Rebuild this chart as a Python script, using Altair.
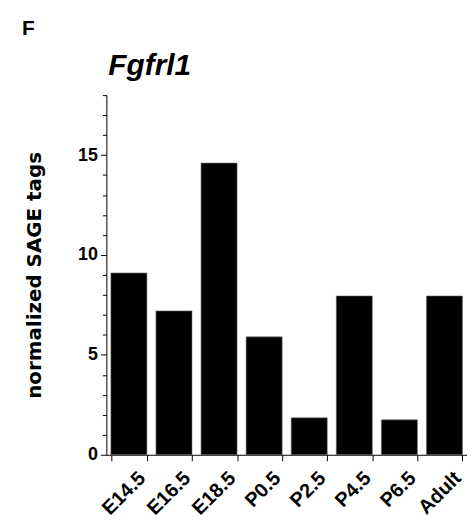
import altair as alt
import pandas as pd

stages = ["E14.5", "E16.5", "E18.5", "P0.5", "P2.5", "P4.5", "P6.5", "Adult"]
tags = [9.1, 7.2, 14.6, 5.9, 1.85, 7.95, 1.75, 7.95]
y_ticks = list(range(0, 19))
panel_label = ["F"]
gene_title = ["Fgfrl1"]

df = pd.DataFrame({"stage": stages, "tags": tags})

FONT = "Liberation Sans"

bars = alt.Chart(df).mark_bar(color="black", stroke="#777777", strokeWidth=0.6).encode(
    x=alt.X("stage:N", sort=stages, title=None,
            scale=alt.Scale(paddingInner=0.2, paddingOuter=0.1),
            axis=alt.Axis(tickBand="extent", labelAngle=-45, labelAlign="right",
                          labelBaseline="top", labelOffset=6, labelPadding=7,
                          tickSize=6, labelFontSize=20, labelFontWeight="bold",
                          labelFont=FONT, labelColor="black",
                          domainColor="black", tickColor="black")),
    y=alt.Y("tags:Q", title="normalized SAGE tags",
            scale=alt.Scale(domain=[0, 18], nice=False),
            axis=alt.Axis(values=y_ticks,
                          labelExpr="datum.value % 5 === 0 ? datum.label : ''",
                          tickSize={"expr": "datum.value % 5 === 0 ? 6 : 4"},
                          labelFontSize=18, labelFontWeight="bold", labelFont=FONT,
                          labelColor="black", labelPadding=3,
                          titleFontSize=20, titleFontWeight="bold",
                          titleFont="DejaVu Sans",
                          titleColor="black", titlePadding=33,
                          domainColor="black", tickColor="black", grid=False)),
)

panel = alt.Chart(pd.DataFrame({"label": panel_label})).mark_text(
    font=FONT, fontSize=21, fontWeight="bold", align="left", baseline="alphabetic",
    color="black",
).encode(text="label:N", x=alt.value(-85), y=alt.value(-61))

gene = alt.Chart(pd.DataFrame({"label": gene_title})).mark_text(
    font=FONT, fontSize=30, fontWeight="bold", fontStyle="italic", align="left",
    baseline="alphabetic", color="black",
).encode(text="label:N", x=alt.value(2), y=alt.value(-20))

chart = alt.layer(bars, panel, gene).properties(
    width=363, height=362,
    autosize=alt.AutoSizeParams(type="none"),
    padding={"left": 99, "top": 86, "right": 0, "bottom": 66},
).configure_view(stroke=None)

chart.save("out.html", embed_options={"renderer": "svg", "actions": False})
